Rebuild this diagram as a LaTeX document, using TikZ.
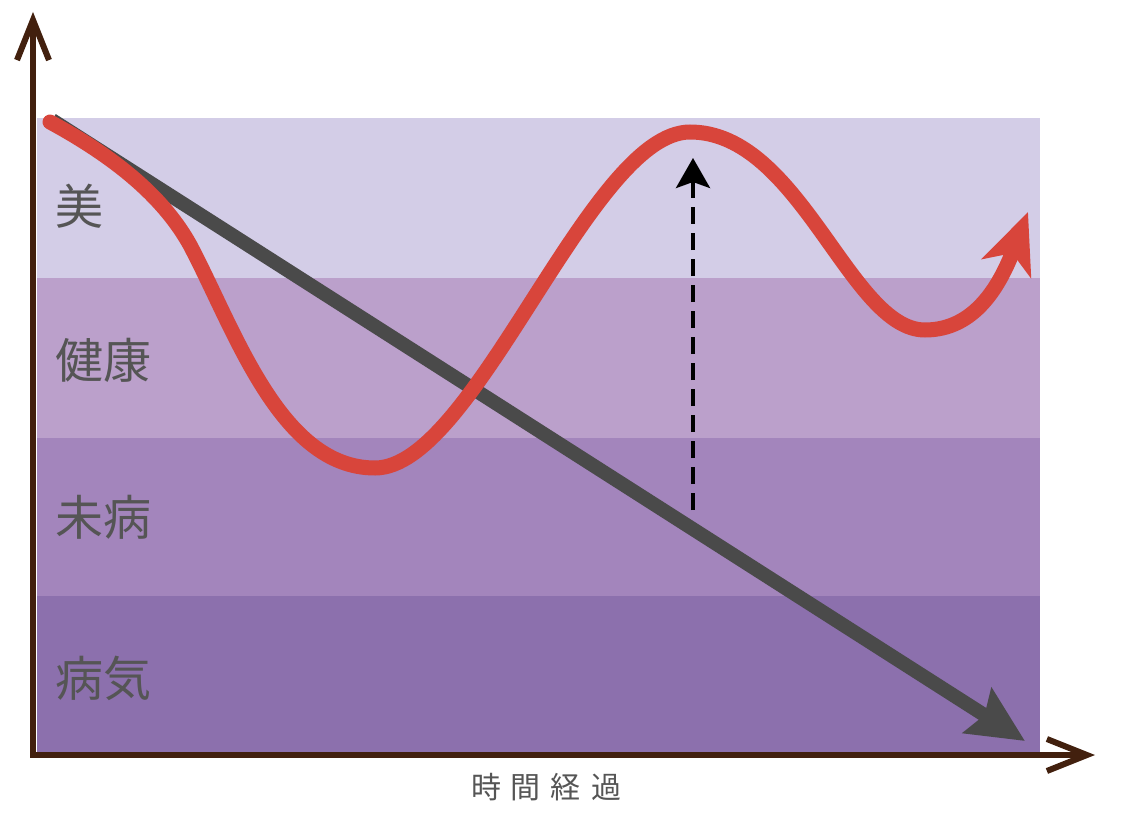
\documentclass[tikz,border=0pt]{standalone}
\usepackage{fontspec}
\newfontfamily\cjk{Noto Sans CJK JP}
\usetikzlibrary{arrows.meta}
\definecolor{bandA}{HTML}{D3CDE7}
\definecolor{bandB}{HTML}{BBA0CB}
\definecolor{bandC}{HTML}{A385BC}
\definecolor{bandD}{HTML}{8C70AD}
\definecolor{redline}{HTML}{D8453B}
\definecolor{grayline}{HTML}{4A4A4A}
\definecolor{axisbrown}{HTML}{42200E}
\definecolor{labelgray}{HTML}{555555}
\tikzset{
  axisline/.style={draw=axisbrown, line width=6pt, -{Straight Barb[length=40pt,width=32pt,line width=6pt]}},
  trendline/.style={draw=grayline, line width=14pt, -{Stealth[length=56pt,width=52pt,inset=8pt]}},
  lifeline/.style={draw=redline, line width=15pt, line cap=round, -{Stealth[length=60pt,width=52pt,inset=16pt]}},
  liftline/.style={draw=black, line width=4pt, dash pattern=on 17pt off 9pt, -{Stealth[length=30pt,width=34pt,inset=6pt]}},
  bandlabel/.style={text=labelgray, font=\cjk\fontsize{48}{52}\selectfont, inner sep=0pt},
  timelabel/.style={text=labelgray, font=\cjk\fontsize{30}{34}\selectfont, inner sep=0pt}
}
\begin{document}
\begin{tikzpicture}[x=1pt,y=-1pt]
\useasboundingbox (0,0) rectangle (1135,813);
\fill[white] (0,0) rectangle (1135,813);
% bands
\fill[bandA] (37,118) rectangle (1040,278);
\fill[bandB] (37,278) rectangle (1040,438);
\fill[bandC] (37,438) rectangle (1040,596);
\fill[bandD] (37,596) rectangle (1040,755);
% axes
\coordinate (origin) at (33,755);
\coordinate (ytip) at (33,12);
\coordinate (xtip) at (1095,755);
\draw[axisline] ([yshift=3pt]origin) -- (ytip);
\draw[axisline] ([xshift=-3pt]origin) -- (xtip);
% labels
\node[bandlabel] (bi) at (79,206) {美};
\node[bandlabel] (kenko) at (103,360) {健康};
\node[bandlabel] (mibyo) at (103,517) {未病};
\node[bandlabel] (byoki) at (103,678) {病気};
\node[timelabel] (time) at (546,787) {時\hspace{10pt}間\hspace{10pt}経\hspace{10pt}過};
% gray trend
\coordinate (gstart) at (52,120);
\coordinate (gend) at (1025,741);
\draw[trendline] (gstart) -- (gend);
% red curve
\coordinate (rstart) at (50,122);
\coordinate (r1) at (190,245);
\coordinate (rmin1) at (375,468);
\coordinate (rmax) at (690,132);
\coordinate (rmin2) at (925,330);
\coordinate (rend) at (1028,212);
\draw[lifeline] (rstart) .. controls (120,160) and (165,200) .. (r1)
  .. controls (235,330) and (280,468) .. (rmin1)
  .. controls (475,468) and (590,132) .. (rmax)
  .. controls (800,132) and (850,330) .. (rmin2)
  .. controls (975,330) and (1000,285) .. (rend);
% dashed lift
\coordinate (dstart) at (693,510);
\coordinate (dend) at (693,158);
\draw[liftline] (dstart) -- (dend);
\end{tikzpicture}
\end{document}
